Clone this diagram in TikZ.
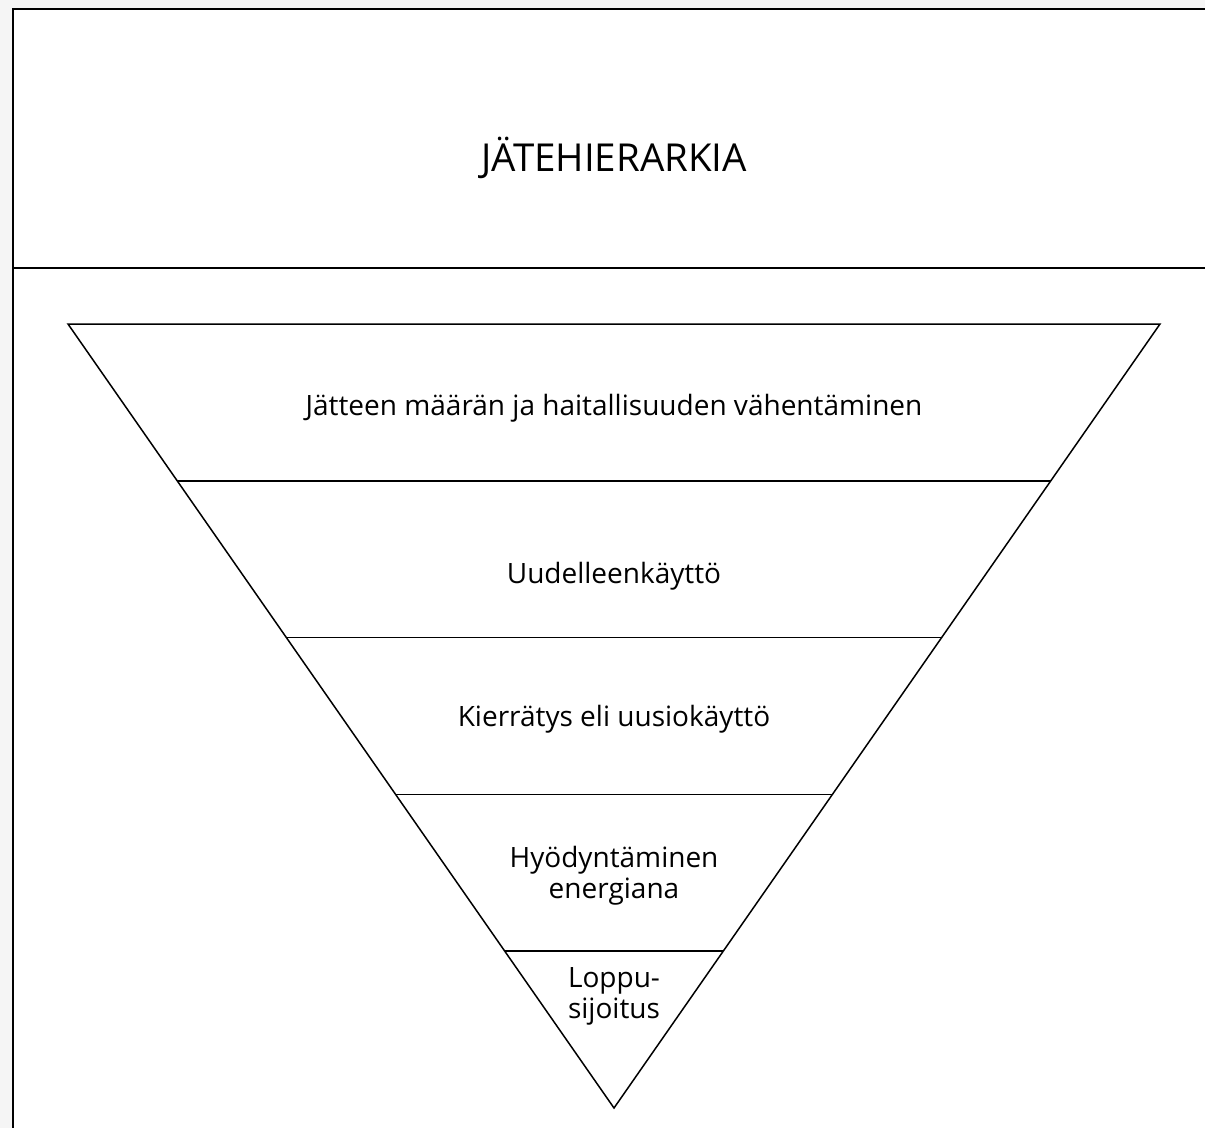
\documentclass[tikz,border=0pt]{standalone}
\usepackage{fontspec}
\setmainfont{Open Sans}
\usetikzlibrary{calc}

\begin{document}
\begin{tikzpicture}[x = 1pt, y = -1pt, font = \fontsize{28}{31}\selectfont]
	\tikzstyle{frameStyle} = [line width = 2pt]
	\tikzstyle{bandStyle} = [line width = 1.5pt]
	\tikzstyle{levelStyle} = [align = center, inner sep = 0pt]
	\useasboundingbox (0,0) rectangle (1205,1128);
	\fill[black!4] (0,0) rectangle (1205,1128);
	\fill[white] (13,9) rectangle (1205,1128);
	\draw[frameStyle] (1205,9) -- (13,9) -- (13,1128);
	\draw[frameStyle] (13,268) -- (1205,268);
	\node[levelStyle, font = \fontsize{38.5}{42}\selectfont] (title) at (614,158) {JÄTEHIERARKIA};
	% pyramid
	\coordinate (tl) at (68,324);
	\coordinate (tr) at (1160,324);
	\coordinate (apex) at (614,1108);
	\draw[bandStyle, line join = miter] (tl) -- (tr) -- (apex) -- cycle;
	\foreach \f in {0.2, 0.4, 0.6, 0.8}
		\draw[bandStyle] ($(tl)!\f!(apex)$) -- ($(tr)!\f!(apex)$);
	\node[levelStyle] (l1) at (614,408) {Jätteen määrän ja haitallisuuden vähentäminen};
	\node[levelStyle] (l2) at (614,576) {Uudelleenkäyttö};
	\node[levelStyle] (l3) at (614,719) {Kierrätys eli uusiokäyttö};
	\node[levelStyle] (l4) at (614,876) {Hyödyntäminen\\energiana};
	\node[levelStyle] (l5) at (614,996) {Loppu-\\sijoitus};
\end{tikzpicture}
\end{document}
